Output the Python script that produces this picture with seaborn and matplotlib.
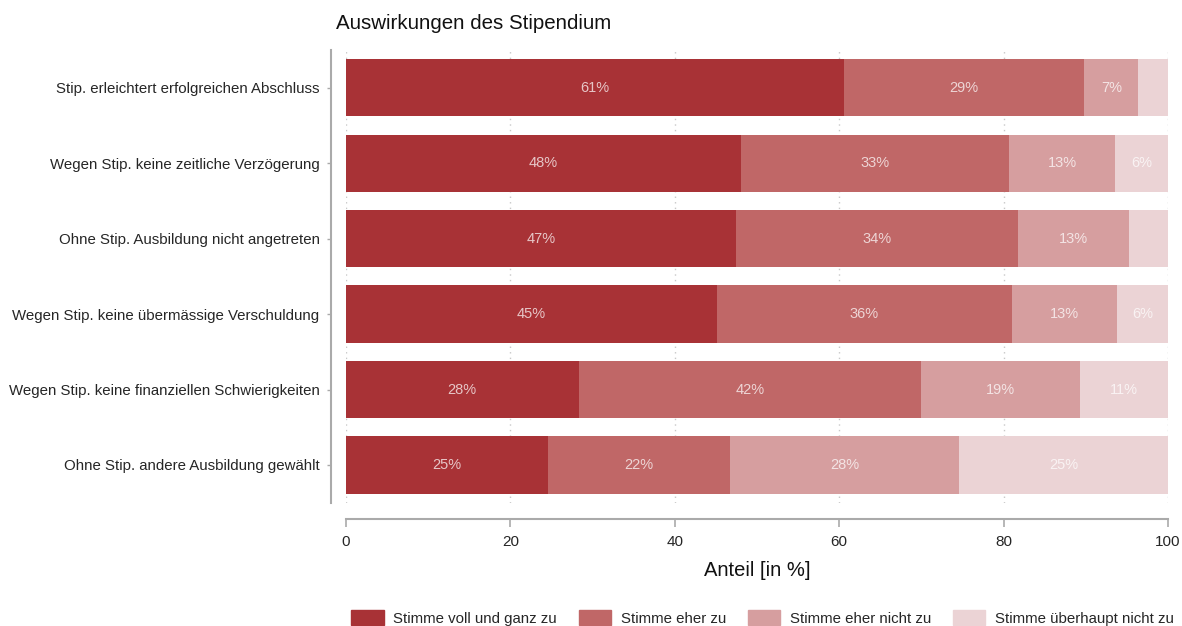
import numpy as np
import matplotlib
matplotlib.use("Agg")
import matplotlib.pyplot as plt
import seaborn as sns
import pandas as pd

# Daten
kategorien = [
    "Stip. erleichtert erfolgreichen Abschluss",
    "Wegen Stip. keine zeitliche Verzögerung",
    "Ohne Stip. Ausbildung nicht angetreten",
    "Wegen Stip. keine übermässige Verschuldung",
    "Wegen Stip. keine finanziellen Schwierigkeiten",
    "Ohne Stip. andere Ausbildung gewählt",
]
voll_zu = [60.6, 48.1, 47.4, 45.1, 28.3, 24.6]
eher_zu = [29.2, 32.6, 34.4, 35.9, 41.7, 22.1]
eher_nicht = [6.6, 12.9, 13.4, 12.8, 19.3, 27.9]
gar_nicht = [3.6, 6.4, 4.8, 6.2, 10.7, 25.4]

antworten = ["Stimme voll und ganz zu", "Stimme eher zu",
             "Stimme eher nicht zu", "Stimme überhaupt nicht zu"]
farben = ["#A83236", "#C06767", "#D69E9F", "#EBD3D5"]
x_ticks = [0, 20, 40, 60, 80, 100]

df = pd.DataFrame({"kategorie": kategorien, antworten[0]: voll_zu,
                   antworten[1]: eher_zu, antworten[2]: eher_nicht,
                   antworten[3]: gar_nicht})

sns.set_theme(style="white")
plt.rcParams["font.family"] = ["Liberation Sans", "DejaVu Sans"]

fig = plt.figure(figsize=(11.82, 6.26), dpi=100)
ax = fig.add_axes([0.2927, 0.197, 0.6955, 0.723])

# gestapelte Balken: kumulierte Summen von hinten nach vorne zeichnen
werte = df[antworten].to_numpy()
kum = werte.cumsum(axis=1)
for i in range(3, -1, -1):
    sns.barplot(x=kum[:, i], y=df["kategorie"], color=farben[i], width=0.76,
                orient="h", ax=ax, saturation=1, linewidth=0, zorder=2)

# Prozentwerte in den Segmenten
for r in range(len(kategorien)):
    for i in range(4):
        v = werte[r, i]
        if v >= 5:
            mitte = kum[r, i] - v / 2
            ax.text(mitte, r, f"{v:.0f}%", ha="center", va="center",
                    fontsize=10.5, color="white", alpha=0.72, zorder=3)

ax.set_xlim(0, 100)
ax.set_ylim(5.5, -0.5)
ax.set_xticks(x_ticks)
ax.set_xticklabels([str(t) for t in x_ticks], fontsize=10.5, color="#222222")
ax.tick_params(axis="y", labelsize=10.8, length=3, width=1, left=True,
               pad=5, color="#aaaaaa")
ax.tick_params(axis="x", length=6, width=1.2, bottom=True, color="#aaaaaa", pad=5)
for lab in ax.get_yticklabels():
    lab.set_color("#222222")

ax.xaxis.grid(True, linestyle=(0, (1, 3)), color="#c8c8c8", linewidth=1, zorder=0)
ax.set_axisbelow(True)

for s in ["top", "right"]:
    ax.spines[s].set_visible(False)
ax.spines["left"].set_position(("outward", 11))
ax.spines["bottom"].set_position(("outward", 12))
ax.spines["left"].set_color("#aaaaaa")
ax.spines["bottom"].set_color("#aaaaaa")
ax.spines["left"].set_linewidth(1.5)
ax.spines["bottom"].set_linewidth(1.5)

ax.set_ylabel("")
ax.set_xlabel("Anteil [in %]", fontsize=14.5, color="#111111", labelpad=9)
ax.set_title("Auswirkungen des Stipendium", fontsize=14.8, loc="left",
             x=-0.012, pad=15, color="#111111")

handles = [plt.Rectangle((0, 0), 1, 1, color=c) for c in farben]
fig.legend(handles, antworten, loc="center", bbox_to_anchor=(0.645, 0.013),
           ncol=4, frameon=False, fontsize=10.8, handlelength=2.15,
           handleheight=1.1, columnspacing=1.45, handletextpad=0.65)

fig.savefig("out.png", dpi=100)
